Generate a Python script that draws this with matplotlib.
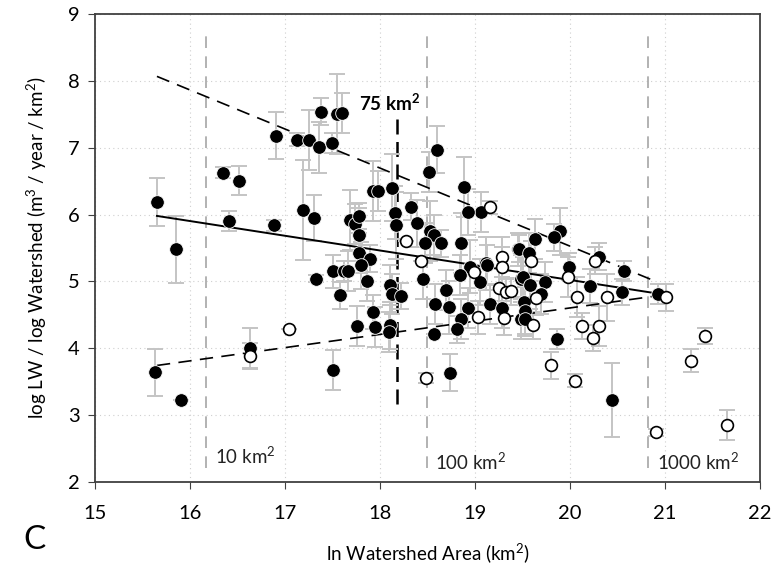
import matplotlib
matplotlib.use("Agg")
import matplotlib.pyplot as plt
import numpy as np

plt.rcParams['font.family'] = ['Lato', 'DejaVu Sans']
plt.rcParams['mathtext.fontset'] = 'custom'
plt.rcParams['mathtext.rm'] = 'Lato'
plt.rcParams['mathtext.bf'] = 'Lato:bold'

# filled circles: ln area, log ratio, error
filled_x = [15.65, 15.85, 15.63, 15.90, 16.35, 16.51, 16.41, 16.90, 16.88, 17.12,
            17.25, 17.36, 17.38, 17.49, 17.55, 17.60, 17.19, 17.30, 16.63, 17.50,
            17.32, 17.50, 17.58, 17.62, 17.93, 17.98, 18.12, 18.60, 18.51, 18.88,
            19.06, 18.93, 17.68, 17.74, 17.78, 17.78, 18.16, 18.17, 18.33, 18.39,
            18.53, 18.57, 18.64, 18.47, 18.85, 17.78, 17.89, 17.80, 17.66, 17.86,
            18.10, 19.11, 19.45, 19.48, 18.95, 19.05, 18.69, 18.45, 18.13, 18.22,
            17.93, 17.76, 17.95, 18.10, 18.09, 18.57, 18.74, 18.58, 18.72, 18.84,
            18.93, 18.85, 18.81, 19.16, 19.28, 19.48, 19.89, 19.83, 19.63, 19.46,
            19.57, 19.12, 19.99, 20.30, 20.57, 19.50, 19.58, 19.74, 20.21, 20.55,
            20.93, 19.69, 19.51, 19.53, 19.52, 19.86, 20.44]
filled_y = [6.19, 5.48, 3.64, 3.22, 6.63, 6.51, 5.91, 7.18, 5.84, 7.12,
            7.12, 7.01, 7.54, 7.07, 7.51, 7.52, 6.07, 5.95, 4.00, 3.67,
            5.04, 5.15, 4.79, 5.15, 6.36, 6.36, 6.40, 6.97, 6.64, 6.42,
            6.04, 6.04, 5.92, 5.86, 5.98, 5.70, 6.03, 5.84, 6.12, 5.87,
            5.75, 5.69, 5.57, 5.57, 5.57, 5.43, 5.34, 5.24, 5.15, 5.00,
            4.95, 5.27, 5.48, 5.04, 5.22, 4.99, 4.87, 5.03, 4.81, 4.78,
            4.54, 4.33, 4.31, 4.34, 4.24, 4.21, 3.63, 4.66, 4.61, 5.09,
            4.60, 4.43, 4.28, 4.66, 4.60, 4.43, 5.75, 5.66, 5.63, 5.49,
            5.43, 5.25, 5.22, 5.37, 5.15, 5.06, 4.94, 4.99, 4.93, 4.84,
            4.81, 4.81, 4.69, 4.56, 4.43, 4.13, 3.22]
filled_err = [0.36, 0.50, 0.35, 0.0, 0.08, 0.22, 0.15, 0.35, 0.08, 0.10,
              0.45, 0.38, 0.20, 0.15, 0.60, 0.30, 0.75, 0.35, 0.30, 0.30,
              0.05, 0.25, 0.20, 0.15, 0.45, 0.30, 0.50, 0.35, 0.30, 0.45,
              0.30, 0.35, 0.45, 0.30, 0.20, 0.40, 0.40, 0.50, 0.20, 0.35,
              0.45, 0.30, 0.20, 0.30, 0.45, 0.30, 0.20, 0.35, 0.30, 0.30,
              0.30, 0.40, 0.25, 0.35, 0.40, 0.35, 0.30, 0.30, 0.30, 0.20,
              0.25, 0.30, 0.30, 0.35, 0.30, 0.0, 0.28, 0.30, 0.40, 0.30,
              0.30, 0.30, 0.20, 0.30, 0.30, 0.30, 0.35, 0.20, 0.30, 0.20,
              0.30, 0.30, 0.20, 0.20, 0.15, 0.30, 0.35, 0.30, 0.25, 0.20,
              0.15, 0.30, 0.30, 0.35, 0.25, 0.15, 0.55]

# open circles
open_x = [16.63, 17.04, 18.27, 18.43, 19.16, 19.28, 19.28, 18.99, 19.25, 19.33,
          19.38, 18.48, 19.03, 19.30, 19.59, 19.98, 20.26, 21.01, 19.64, 20.07,
          20.39, 19.61, 20.12, 20.30, 20.24, 19.80, 20.05, 20.90, 21.27, 21.42,
          21.65]
open_y = [3.88, 4.29, 5.61, 5.30, 6.11, 5.36, 5.21, 5.14, 4.90, 4.84,
          4.85, 3.55, 4.46, 4.45, 5.31, 5.06, 5.31, 4.76, 4.75, 4.76,
          4.76, 4.34, 4.33, 4.33, 4.15, 3.74, 3.51, 2.74, 3.81, 4.18,
          2.85]
open_err = [0.20, 0.0, 0.0, 0.0, 0.10, 0.30, 0.30, 0.0, 0.30, 0.20,
            0.20, 0.07, 0.25, 0.25, 0.30, 0.30, 0.20, 0.20, 0.25, 0.30,
            0.35, 0.20, 0.20, 0.30, 0.20, 0.20, 0.10, 0.05, 0.17, 0.12,
            0.22]

# fitted lines (start, end)
fit_x = [15.65, 21.0]
fit_mid = [5.98, 4.80]
fit_upper = [8.07, 5.00]
upper_x = [15.65, 20.9]
fit_lower = [3.74, 4.80]

area_lines = [16.17, 18.49, 20.82]
area_labels = ['10 km$^2$', '100 km$^2$', '1000 km$^2$']
cut_x = 18.18

fig, ax = plt.subplots(figsize=(7.74, 5.72), dpi=100)
fig.subplots_adjust(left=0.123, right=0.982, top=0.975, bottom=0.158)

ax.grid(True, linestyle=(0, (1, 3)), color='#cfcfcf', linewidth=0.8)
ax.set_axisbelow(True)

for xv in area_lines:
    ax.plot([xv, xv], [2.2, 8.7], color='#a6a6a6', lw=1.2, dashes=(7, 5), zorder=1)
ax.plot([cut_x, cut_x], [3.16, 7.45], color='black', lw=1.8, dashes=(6, 3), zorder=1)
ax.text(cut_x - 0.08, 7.67, '75 km$^\\mathbf{2}$', fontweight='bold', fontsize=13.5,
        ha='center', va='center')

for xv, lab, yy in zip(area_lines, area_labels, [2.38, 2.3, 2.3]):
    ax.text(xv + 0.09, yy, lab, fontsize=13.5, ha='left', va='center', color='#222222')

ax.errorbar(filled_x, filled_y, yerr=filled_err, fmt='none', ecolor='#c4c4c4',
            elinewidth=1.4, capsize=6, capthick=1.4, zorder=2)
ax.errorbar(open_x, open_y, yerr=open_err, fmt='none', ecolor='#c4c4c4',
            elinewidth=1.4, capsize=6, capthick=1.4, zorder=2)

ax.plot(fit_x, fit_mid, color='black', lw=1.4, zorder=3)
ax.plot(upper_x, fit_upper, color='black', lw=1.2, dashes=(8, 5), zorder=3)
ax.plot(fit_x, fit_lower, color='black', lw=1.2, dashes=(8, 5), zorder=3)

ax.plot(filled_x, filled_y, 'o', color='black', ms=9.8, mec='white', mew=0.6, zorder=4)
ax.plot(open_x, open_y, 'o', mfc='white', mec='black', ms=8.5, mew=1.2, zorder=4)

ax.set_xlim(15, 22)
ax.set_ylim(2, 9)
ax.set_xticks(range(15, 23))
ax.set_yticks(range(2, 10))
ax.tick_params(labelsize=14.5, direction='out', length=5, color='#404040')
ax.tick_params(axis='x', pad=12)
ax.tick_params(axis='y', pad=6)
for sp in ax.spines.values():
    sp.set_color('#404040')
    sp.set_linewidth(1.3)

ax.set_xlabel('ln Watershed Area (km$^2$)', fontsize=13.5, labelpad=14)
ax.set_ylabel('log LW / log Watershed (m$^3$ / year / km$^2$)', fontsize=13.5, labelpad=14)
fig.text(0.03, 0.04, 'C', fontsize=24)

fig.savefig('out.png', dpi=100)
